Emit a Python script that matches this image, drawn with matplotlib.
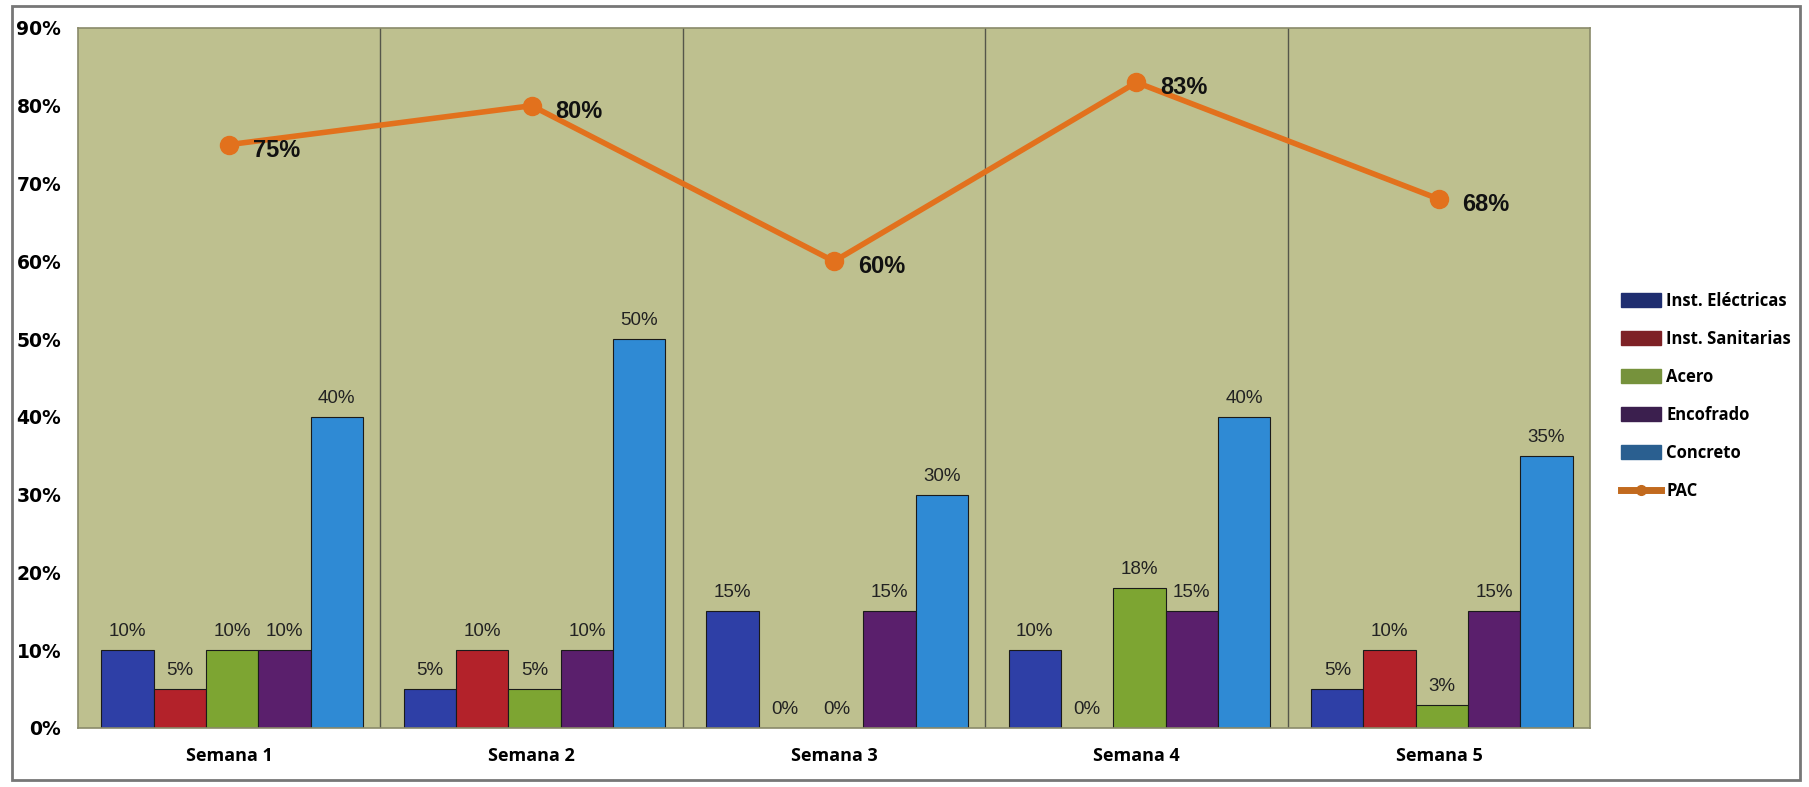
import numpy as np
import matplotlib.pyplot as plt
from matplotlib.patches import Rectangle
from matplotlib.lines import Line2D

semanas = ["Semana 1", "Semana 2", "Semana 3", "Semana 4", "Semana 5"]
series = ["Inst. Eléctricas", "Inst. Sanitarias", "Acero", "Encofrado", "Concreto"]
electricas = [10, 5, 15, 10, 5]
sanitarias = [5, 10, 0, 0, 10]
acero = [10, 5, 0, 18, 3]
encofrado = [10, 10, 15, 15, 15]
concreto = [40, 50, 30, 40, 35]
pac = [75, 80, 60, 83, 68]
yticks = [0, 10, 20, 30, 40, 50, 60, 70, 80, 90]

bar_colors = ["#2E3FA6", "#B3222A", "#7DA532", "#5A1F6C", "#2F8AD4"]
leg_colors = ["#1F2E70", "#7E2126", "#76923C", "#3B1F4E", "#2A5F90"]
pac_color = "#E2711D"
bg = "#BEC08F"

fig = plt.figure(figsize=(18.09, 7.87), dpi=100)
ax = fig.add_axes([0.0431, 0.075, 0.879 - 0.0431, 0.8895])
ax.set_facecolor(bg)

x = np.arange(len(semanas))
w = 0.173
data = [electricas, sanitarias, acero, encofrado, concreto]
for i, vals in enumerate(data):
    pos = x + (i - 2) * w + 0.01
    ax.bar(pos, vals, width=w, color=bar_colors[i], edgecolor="#1a1a1a",
           linewidth=0.8, zorder=2)
    for xp, v in zip(pos, vals):
        ax.text(xp, v + 1.3, f"{v}%", ha="center", va="bottom", fontsize=13.5,
                family="Liberation Sans", color="#222222", zorder=4)

ax.plot(x, pac, color=pac_color, linewidth=4, marker="o", markersize=13,
        zorder=5)
for xp, v in zip(x, pac):
    ax.annotate(f"{v}%", (xp, v), xytext=(17, -4), textcoords="offset points",
                ha="left", va="center", fontsize=17, fontweight="bold",
                family="Liberation Sans", color="#111111", zorder=6)

ax.set_xlim(-0.5, 4.5)
ax.set_ylim(0, 90)
ax.set_yticks(yticks)
ax.set_yticklabels([f"{t}%" for t in yticks], fontsize=13.5, fontweight="bold",
                   family="DejaVu Sans")
ax.set_xticks(x)
ax.set_xticklabels(semanas, fontsize=13, fontweight="bold", family="Open Sans")
ax.tick_params(length=0, pad=12)
ax.tick_params(axis="x", pad=14)
for b in [0.5, 1.5, 2.5, 3.5]:
    ax.axvline(b, color="#55564a", linewidth=1, zorder=1)
for s in ax.spines.values():
    s.set_color("#8a8a6a")
    s.set_linewidth(1.2)

handles = [Rectangle((0, 0), 1, 1, color=c) for c in leg_colors]
handles.append(Line2D([0], [0], color="#C26A1E", linewidth=5, marker="o",
                      markersize=7))
fig.legend(handles, series + ["PAC"], loc="upper left",
           bbox_to_anchor=(0.888, 0.648), frameon=False,
           prop={"family": "Open Sans", "weight": "bold", "size": 12},
           handlelength=2.4, handleheight=0.9, handletextpad=0.3,
           labelspacing=1.2)

fig.add_artist(Rectangle((0.0066, 0.009), 0.9885, 0.984, transform=fig.transFigure,
                         fill=False, edgecolor="#777777", linewidth=2))

fig.savefig("out.png", dpi=100)
